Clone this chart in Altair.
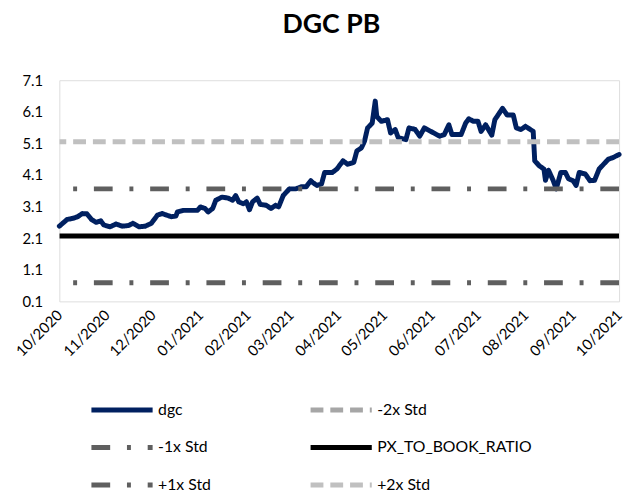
import altair as alt
import pandas as pd

# ---- data ----
dgc_dates = [
    "2020-10-01", "2020-10-06", "2020-10-10", "2020-10-13", "2020-10-16", "2020-10-19",
    "2020-10-22", "2020-10-25", "2020-10-28", "2020-10-30", "2020-11-03", "2020-11-07",
    "2020-11-11", "2020-11-15", "2020-11-18", "2020-11-22", "2020-11-26", "2020-11-30",
    "2020-12-04", "2020-12-07", "2020-12-10", "2020-12-13", "2020-12-16", "2020-12-17",
    "2020-12-21", "2020-12-27", "2020-12-30", "2021-01-01", "2021-01-04", "2021-01-06",
    "2021-01-09", "2021-01-11", "2021-01-15", "2021-01-19", "2021-01-22", "2021-01-24",
    "2021-01-26", "2021-01-29", "2021-01-31", "2021-02-02", "2021-02-04", "2021-02-07",
    "2021-02-09", "2021-02-13", "2021-02-16", "2021-02-19", "2021-02-21", "2021-02-24",
    "2021-02-28", "2021-03-04", "2021-03-08", "2021-03-11", "2021-03-14", "2021-03-15",
    "2021-03-18", "2021-03-21", "2021-03-23", "2021-03-28", "2021-03-31", "2021-04-04",
    "2021-04-07", "2021-04-11", "2021-04-13", "2021-04-16", "2021-04-18", "2021-04-20",
    "2021-04-23", "2021-04-25", "2021-04-26", "2021-04-29", "2021-05-03", "2021-05-05",
    "2021-05-08", "2021-05-10", "2021-05-15", "2021-05-17", "2021-05-21", "2021-05-24",
    "2021-05-27", "2021-06-01", "2021-06-06", "2021-06-09", "2021-06-12", "2021-06-14",
    "2021-06-20", "2021-06-23", "2021-06-25", "2021-06-28", "2021-07-01", "2021-07-03",
    "2021-07-06", "2021-07-10", "2021-07-12", "2021-07-17", "2021-07-20", "2021-07-24",
    "2021-07-26", "2021-07-29", "2021-08-01", "2021-08-06", "2021-08-07", "2021-08-10",
    "2021-08-13", "2021-08-14", "2021-08-16", "2021-08-19", "2021-08-21", "2021-08-24",
    "2021-08-27", "2021-08-29", "2021-09-01", "2021-09-03", "2021-09-05", "2021-09-09",
    "2021-09-12", "2021-09-15", "2021-09-18", "2021-09-24", "2021-09-27", "2021-10-01",
]
dgc_values = [
    2.48, 2.69, 2.73, 2.78, 2.88, 2.87,
    2.69, 2.60, 2.65, 2.52, 2.46, 2.55,
    2.48, 2.50, 2.57, 2.46, 2.48, 2.57,
    2.83, 2.88, 2.83, 2.78, 2.80, 2.93,
    2.98, 2.98, 2.98, 3.09, 3.04, 2.93,
    3.04, 3.30, 3.40, 3.37, 3.30, 3.45,
    3.25, 3.19, 3.25, 3.00, 3.25, 3.37,
    3.17, 3.14, 3.04, 3.14, 3.09, 3.45,
    3.66, 3.66, 3.73, 3.73, 3.92, 3.87,
    3.77, 3.82, 4.18, 4.18, 4.29, 4.55,
    4.44, 4.50, 4.86, 4.96, 5.17, 5.59,
    5.74, 6.44, 5.95, 5.80, 5.85, 5.43,
    5.54, 5.28, 5.22, 5.59, 5.54, 5.33,
    5.59, 5.46, 5.33, 5.38, 5.69, 5.38,
    5.38, 5.75, 5.88, 5.80, 5.80, 5.48,
    5.69, 5.36, 5.85, 6.21, 6.00, 6.00,
    5.59, 5.54, 5.64, 5.48, 4.55, 4.39,
    4.29, 3.93, 4.25, 3.93, 3.66, 4.18,
    4.18, 3.98, 3.92, 3.77, 4.18, 4.13,
    3.92, 3.93, 4.29, 4.60, 4.65, 4.75,
]

band_names = ["-2x Std", "-1x Std", "PX_TO_BOOK_RATIO", "+1x Std", "+2x Std"]
band_values = [-0.79, 0.69, 2.17, 3.66, 5.15]

series_order = ["dgc", "-2x Std", "-1x Std", "PX_TO_BOOK_RATIO", "+1x Std", "+2x Std"]
series_colors = ["#002060", "#a6a6a6", "#5f5f5f", "#000000", "#5f5f5f", "#c0c0c0"]
series_dashes = [[1, 0], [13, 7], [19, 17, 4, 17], [1, 0], [19, 17, 4, 17], [13, 7]]

y_ticks = [0.1, 1.1, 2.1, 3.1, 4.1, 5.1, 6.1, 7.1]
x_tick_months = [(2020, 10), (2020, 11), (2020, 12), (2021, 1), (2021, 2), (2021, 3),
                 (2021, 4), (2021, 5), (2021, 6), (2021, 7), (2021, 8), (2021, 9), (2021, 10)]

FONT = "Lato"

line_df = pd.DataFrame({"date": dgc_dates, "value": dgc_values, "series": "dgc"})
band_df = pd.DataFrame({"value": band_values, "series": band_names})

x_vals = [alt.DateTime(year=y, month=m, date=1, utc=True) for y, m in x_tick_months]


def make_legend():
    return alt.Legend(
        title=None, orient="none", direction="horizontal", legendX=30, legendY=324,
        columns=2, symbolType="stroke", symbolSize=3844, symbolStrokeWidth=5,
        labelFont=FONT, labelFontSize=16, labelColor="#000000", labelOffset=3,
        columnPadding=98, rowPadding=18, clipHeight=20, padding=0,
    )


color_enc = alt.Color(
    "series:N",
    scale=alt.Scale(domain=series_order, range=series_colors),
    sort=series_order,
    legend=make_legend(),
)
dash_enc = alt.StrokeDash(
    "series:N",
    scale=alt.Scale(domain=series_order, range=series_dashes),
    sort=series_order,
    legend=make_legend(),
)

x_enc = alt.X(
    "date:T",
    scale=alt.Scale(type="utc", domain=[x_vals[0], x_vals[-1]]),
    axis=alt.Axis(values=x_vals, format="%m/%Y", labelAngle=-45, labelAlign="right",
                  labelBaseline="middle", labelPadding=11, labelFont=FONT,
                  labelFontSize=15, labelColor="#000000", title=None,
                  grid=False, domain=False, ticks=False, labelOverlap=False),
)
y_scale = alt.Scale(domain=[0.1, 7.1], nice=False, zero=False)
y_axis = alt.Axis(values=y_ticks, format=".1f", labelFont=FONT, labelFontSize=15,
                  labelColor="#000000", labelPadding=17, title=None, grid=False,
                  domain=False, ticks=False)

line = alt.Chart(line_df).mark_line(strokeWidth=5, strokeCap="round", strokeJoin="round").encode(
    x=x_enc,
    y=alt.Y("value:Q", scale=y_scale, axis=y_axis),
    color=color_enc,
    strokeDash=dash_enc,
)

rules = alt.Chart(band_df).mark_rule(strokeWidth=5, clip=True).encode(
    y=alt.Y("value:Q", scale=y_scale, axis=y_axis),
    color=color_enc,
    strokeDash=dash_enc,
)

chart = alt.layer(line, rules).properties(
    width=567,
    height=224,
    autosize="none",
    padding={"left": 52, "top": 70, "right": 6, "bottom": 195},
    title=alt.TitleParams("DGC PB", font=FONT, fontSize=27, fontWeight="bold",
                          color="#000000", anchor="middle", frame="group", dx=-8,
                          offset=14, baseline="alphabetic"),
).configure_view(stroke=None).configure(background="white")

chart.save("out.html", embed_options={"renderer": "svg", "actions": False})
